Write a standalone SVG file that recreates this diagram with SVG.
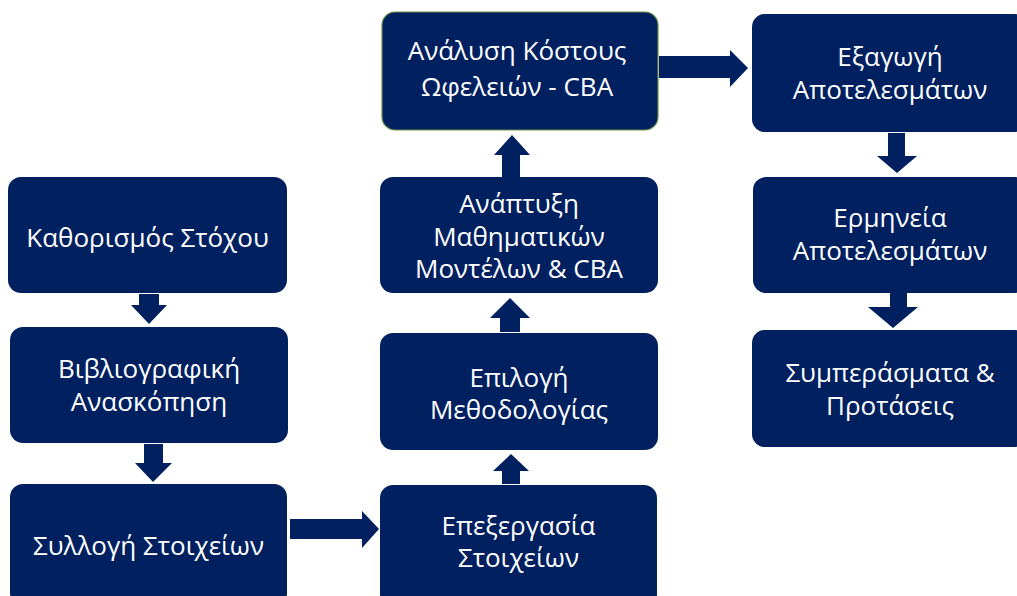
<svg xmlns="http://www.w3.org/2000/svg" width="1017" height="596" viewBox="0 0 1017 596">
<style>
.box{fill:#002060;}
.hl{stroke:#6f8f45;stroke-width:1.2;}
.arr{fill:#002060;}
text{font-family:"Open Sans","Noto Sans","Liberation Sans",sans-serif;font-size:26px;fill:#ffffff;text-anchor:middle;}
</style>
<rect width="1017" height="596" fill="#ffffff"/>
<g id="connectors">
<polygon class="arr" points="139,294 159,294 159,305 167,305 149,324 131,305 139,305"/>
<polygon class="arr" points="144,444 163,444 163,463 172,463 153,482 135,463 144,463"/>
<polygon class="arr" points="290,519 362,519 362,511 379,529 362,548 362,539 290,539"/>
<polygon class="arr" points="502,484 520,484 520,471 529,471 511,454 493,471 502,471"/>
<polygon class="arr" points="500,332 520,332 520,318 530,318 510,298 490,318 500,318"/>
<polygon class="arr" points="502,177 520,177 520,155 530,155 512,135 494,155 502,155"/>
<polygon class="arr" points="659,56 730,56 730,50 748,68 730,87 730,78 659,78"/>
<polygon class="arr" points="888,133 905,133 905,156 917,156 897,173 877,156 888,156"/>
<polygon class="arr" points="890,293 907,293 907,307 918,307 893,328 868,307 890,307"/>
</g>
<g id="n1"><rect class="box" x="8" y="177" width="279" height="116" rx="13"/><text x="147.5" y="247">Καθορισμός Στόχου</text></g>
<g id="n2"><rect class="box" x="10" y="327" width="278" height="116" rx="13"/><text x="149" y="378">Βιβλιογραφική</text><text x="149" y="411">Ανασκόπηση</text></g>
<g id="n3"><rect class="box" x="10" y="484" width="277" height="122" rx="13"/><text x="148.5" y="555">Συλλογή Στοιχείων</text></g>
<g id="n4"><rect class="box" x="380" y="485" width="277" height="122" rx="13"/><text x="518.5" y="535">Επεξεργασία</text><text x="518.5" y="567">Στοιχείων</text></g>
<g id="n5"><rect class="box" x="380" y="333" width="278" height="117" rx="13"/><text x="519" y="387">Επιλογή</text><text x="519" y="419">Μεθοδολογίας</text></g>
<g id="n6"><rect class="box" x="380" y="177" width="278" height="116" rx="13"/><text x="519" y="213">Ανάπτυξη</text><text x="519" y="246">Μαθηματικών</text><text x="519" y="278">Μοντέλων &amp; CBA</text></g>
<g id="n7"><rect class="box hl" x="382" y="12" width="276" height="118" rx="13"/><text x="517" y="60">Ανάλυση Κόστους</text><text x="517" y="96">Ωφελειών - CBA</text></g>
<g id="n8"><rect class="box" x="752" y="14" width="276" height="118" rx="13"/><text x="890" y="66">Εξαγωγή</text><text x="890" y="99">Αποτελεσμάτων</text></g>
<g id="n9"><rect class="box" x="753" y="177" width="275" height="116" rx="13"/><text x="890" y="227">Ερμηνεία</text><text x="890" y="260">Αποτελεσμάτων</text></g>
<g id="n10"><rect class="box" x="752" y="330" width="276" height="117" rx="13"/><text x="890" y="382">Συμπεράσματα &amp;</text><text x="890" y="415">Προτάσεις</text></g>
</svg>
